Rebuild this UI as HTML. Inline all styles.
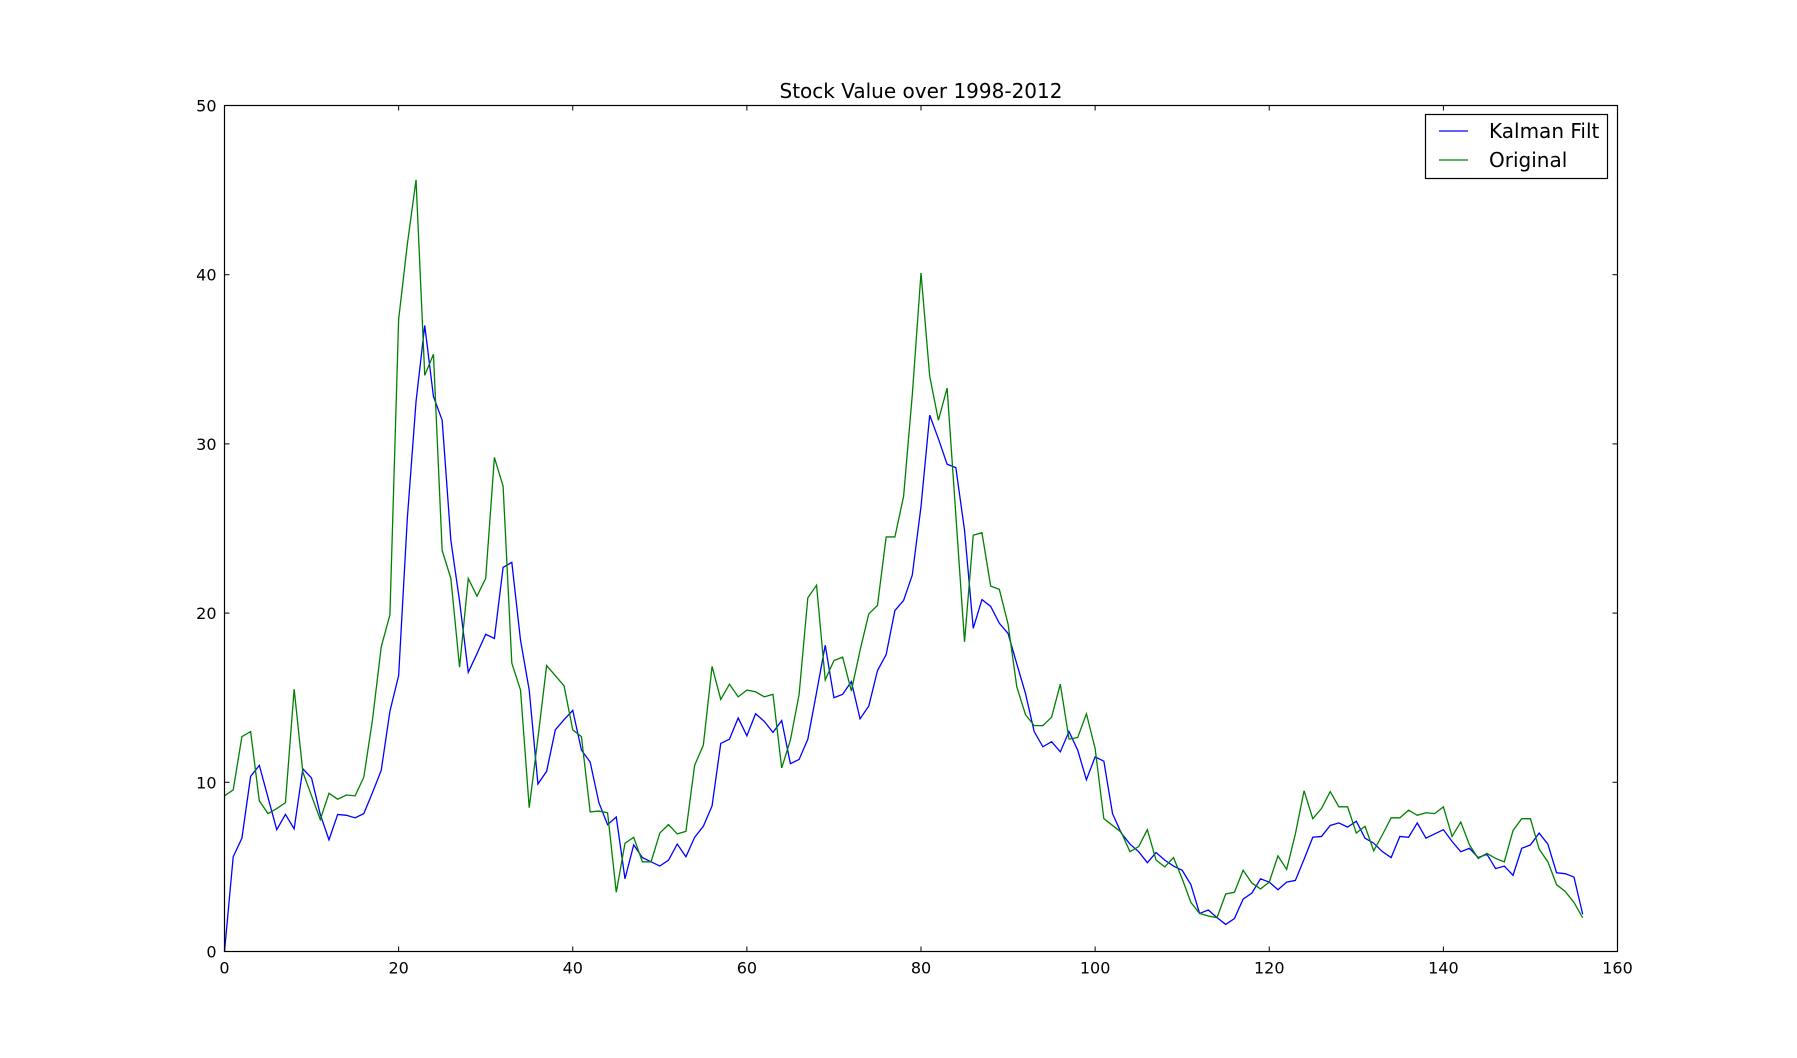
<!DOCTYPE html>
<html><head><meta charset="utf-8"><style>
html,body{margin:0;padding:0;background:#fff;}
svg{display:block;font-family:"DejaVu Sans","Liberation Sans",sans-serif;}
</style></head><body>
<svg id="chart" width="1797" height="1058" viewBox="0 0 1797 1058" xmlns="http://www.w3.org/2000/svg">
<rect width="1797" height="1058" fill="#fff"/>
<text x="921" y="98" font-size="20" text-anchor="middle" fill="#000">Stock Value over 1998-2012</text>
<g id="ticks"></g>
<polyline id="kalman" fill="none" stroke="#0000ff" stroke-width="1.3"/>
<polyline id="orig" fill="none" stroke="#008000" stroke-width="1.3"/>
<rect x="224.5" y="105.5" width="1393" height="846" fill="none" stroke="#000" stroke-width="1.2"/>
<g>
<rect x="1425.5" y="114.5" width="182" height="64" fill="#fff" stroke="#000" stroke-width="1.2"/>
<line x1="1439" y1="131" x2="1468" y2="131" stroke="#0000ff" stroke-width="1.3"/>
<text x="1489" y="138" font-size="20">Kalman Filt</text>
<line x1="1439" y1="160" x2="1468" y2="160" stroke="#008000" stroke-width="1.3"/>
<text x="1489" y="167" font-size="20">Original</text>
</g>
</svg>
<script>
const original = [9.2,9.55,12.7,13.0,8.9,8.15,8.45,8.8,15.5,10.6,9.2,7.8,9.35,9.0,9.25,9.2,10.3,13.7,18.0,19.9,
37.35,41.8,45.6,34.05,35.3,23.7,22.05,16.8,22.05,21.0,22.05,29.2,27.5,17.05,15.45,8.5,12.6,16.9,16.3,15.7,
13.1,12.7,8.25,8.3,8.2,3.5,6.4,6.75,5.3,5.3,7.0,7.5,6.95,7.1,11.0,12.2,16.85,14.9,15.8,15.05,
15.45,15.35,15.05,15.2,10.85,12.5,15.2,20.9,21.65,16.05,17.2,17.4,15.4,17.8,19.95,20.45,24.5,24.5,26.9,32.9,
40.1,34.0,31.4,33.3,25.8,18.3,24.6,24.75,21.6,21.4,19.35,15.65,14.0,13.35,13.35,13.85,15.8,12.55,12.65,14.05,
12.0,7.85,7.45,7.05,5.9,6.2,7.2,5.4,5.0,5.55,4.3,2.9,2.25,2.1,2.0,3.4,3.5,4.8,4.05,3.7,
4.1,5.65,4.85,6.95,9.5,7.85,8.45,9.45,8.55,8.55,7.0,7.4,5.95,6.9,7.9,7.9,8.35,8.05,8.2,8.15,
8.55,6.8,7.65,6.3,5.5,5.8,5.5,5.3,7.15,7.85,7.85,6.05,5.3,3.95,3.55,2.9,2.0];
const kalman = [0,5.6,6.7,10.35,11.0,9.1,7.2,8.1,7.25,10.8,10.25,8.1,6.6,8.1,8.05,7.9,8.15,9.4,10.7,14.2,
16.3,25.6,32.5,37.0,32.8,31.4,24.3,20.7,16.5,17.6,18.75,18.5,22.7,23.0,18.4,15.45,9.9,10.65,13.1,13.7,
14.25,11.9,11.2,8.8,7.5,7.95,4.3,6.3,5.55,5.3,5.05,5.4,6.35,5.6,6.75,7.4,8.6,12.3,12.55,13.8,
12.75,14.05,13.6,12.95,13.65,11.1,11.35,12.55,15.3,18.1,15.0,15.2,15.95,13.75,14.5,16.6,17.55,20.15,20.75,22.25,
26.3,31.7,30.3,28.8,28.6,24.9,19.1,20.8,20.4,19.4,18.8,17.0,15.25,13.0,12.1,12.4,11.8,13.0,11.9,10.15,
11.5,11.25,8.15,7.0,6.35,5.9,5.25,5.85,5.4,5.05,4.8,3.95,2.25,2.45,2.0,1.6,1.95,3.1,3.45,4.3,
4.1,3.65,4.1,4.2,5.45,6.75,6.8,7.45,7.6,7.35,7.7,6.7,6.4,5.9,5.55,6.8,6.75,7.6,6.7,6.95,
7.2,6.5,5.9,6.1,5.55,5.75,4.9,5.05,4.5,6.1,6.3,7.0,6.35,4.65,4.6,4.4,2.2];
const xTicks = [0,20,40,60,80,100,120,140,160];
const yTicks = [0,10,20,30,40,50];

const X0=224.5, X1=1617.5, Y0=951.5, Y1=105.5;
function sx(v){return X0+(v/160)*(X1-X0);}
function sy(v){return Y0-(v/50)*(Y0-Y1);}
const NS='http://www.w3.org/2000/svg';
const g=document.getElementById('ticks');
function mk(tag,attrs){const e=document.createElementNS(NS,tag);for(const k in attrs)e.setAttribute(k,attrs[k]);return e;}
xTicks.forEach(t=>{
  const x=sx(t);
  const a=mk('line',{x1:x,y1:Y0,x2:x,y2:Y0-5,stroke:'#000'});
  
  
  g.appendChild(a);
  const b=mk('line',{x1:x,y1:Y1,x2:x,y2:Y1+5,stroke:'#000'});
  
  
  g.appendChild(b);
  const l=mk('text',{x:x,y:Y0+22,'font-size':16,'text-anchor':'middle'});
  l.textContent=t;
  
  
  g.appendChild(l);
});
yTicks.forEach(t=>{
  const y=sy(t);
  const a=mk('line',{x1:X0,y1:y,x2:X0+5,y2:y,stroke:'#000'});
  
  
  g.appendChild(a);
  const b=mk('line',{x1:X1,y1:y,x2:X1-5,y2:y,stroke:'#000'});
  
  
  g.appendChild(b);
  const l=mk('text',{x:X0-8,y:y+6,'font-size':16,'text-anchor':'end'});
  l.textContent=t;
  
  
  g.appendChild(l);
});
document.getElementById('kalman').setAttribute('points',kalman.map((v,i)=>sx(i)+','+sy(v)).join(' '));
document.getElementById('orig').setAttribute('points',original.map((v,i)=>sx(i)+','+sy(v)).join(' '));
</script>
</body></html>
